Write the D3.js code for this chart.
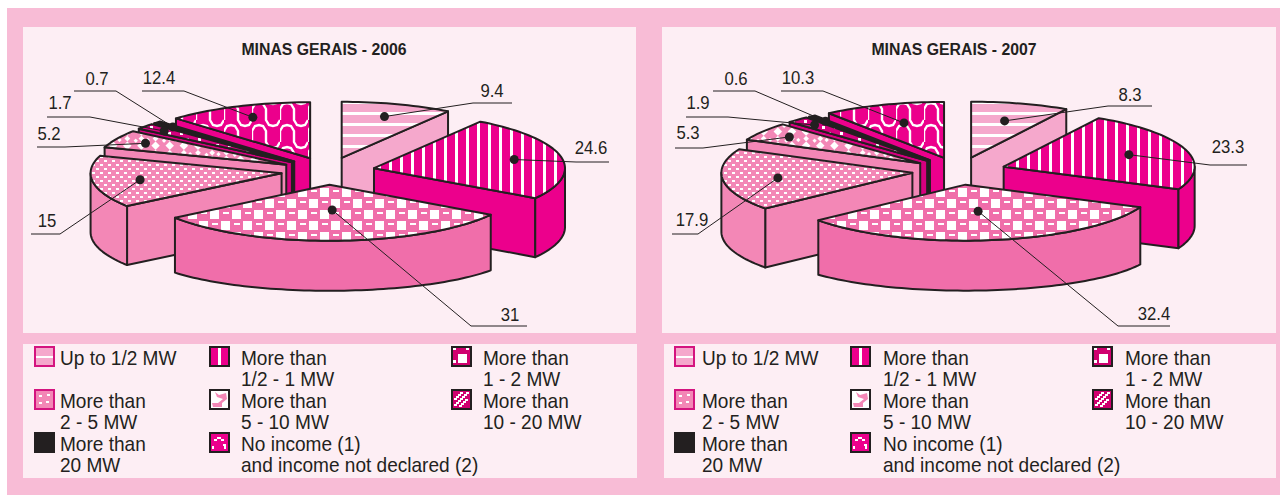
<!DOCTYPE html>
<html><head><meta charset="utf-8">
<script src="https://cdnjs.cloudflare.com/ajax/libs/d3/7.8.5/d3.min.js"></script>
<style>html,body{margin:0;padding:0;background:#fff}svg{display:block}text{font-family:'Liberation Sans',sans-serif;fill:#231f20}</style>
</head><body><svg id="c" width="1280" height="495"></svg>
<script>
const categories=["Up to 1/2 MW","More than 1/2 - 1 MW","More than 1 - 2 MW","More than 2 - 5 MW","More than 5 - 10 MW","More than 10 - 20 MW","More than 20 MW","No income (1) and income not declared (2)"];
const values2006=[9.4,24.6,31,15,5.2,1.7,0.7,12.4];
const values2007=[8.3,23.3,32.4,17.9,5.3,1.9,0.6,10.3];
const ink="#231f20";
const wallColors=["#f5a8cc","#ec008c","#f06eaa","#f387b6","#f387b6","#d6007f",ink,"#ec008c"];
const RX=191,RY=56,DEPTH=59,EXPLODE=47,TILT=RY/RX;
const FRONT=2,FRONT_DEPTH=62,FRONT_RY=44;
const paint=[7,6,5,4,3,0,1,2];
const charts=[
 {title:"MINAS GERAIS - 2006",values:values2006,cx:328,cy:171,titleX:324,
  frac:[.77,.75,.45,.75,.83,.87,.885,.79],
  elbow:[[473,103],[576,162],[471,326],[60,234],[65,147],[90,117],[116,91],[184,91]],
  end:[[512,103],[609,162],[527,326],[31,234],[37,147],[47,117],[74,91],[142,91]],
  lab:[[492,97],[591,154],[510,321],[47,227],[49,140],[60,109],[97,85],[159,84]],
  panel:[23,27,613,306],legend:[23,344,614,134],cols:[[34,60],[209,241],[451,483]]},
 {title:"MINAS GERAIS - 2007",values:values2007,cx:959,cy:171,titleX:954,
  frac:[.68,.69,.48,.71,.83,.87,.885,.66],
  elbow:[[1108,106],[1210,165],[1118,326],[698,234],[703,148],[728,117],[755,91],[823,91]],
  end:[[1152,106],[1247,165],[1170,326],[672,234],[675,148],[686,117],[713,91],[781,91]],
  lab:[[1130,101],[1228,153],[1154,320],[692,226],[688,139],[698,109],[736,85],[798,84]],
  panel:[662,27,614,306],legend:[664,344,612,134],cols:[[674,702],[850,883],[1092,1125]]}
];
const legendLines=[["Up to 1/2 MW"],["More than","1/2 - 1 MW"],["More than","1 - 2 MW"],["More than","2 - 5 MW"],["More than","5 - 10 MW"],["More than","10 - 20 MW"],["More than","20 MW"],["No income (1)","and income not declared (2)"]];
const legendCell=[[0,0],[1,0],[2,0],[0,1],[1,1],[2,1],[0,2],[1,2]];
const svg=d3.select("#c");
const defs=svg.append("defs");
function pat(id,w,h,base,build){const p=defs.append("pattern").attr("id",id).attr("patternUnits","userSpaceOnUse").attr("width",w).attr("height",h);
 p.append("rect").attr("width",w).attr("height",h).attr("fill",base);build(p);return p;}
const wr=(p,x,y,w,h,f="#fff")=>p.append("rect").attr("x",x).attr("y",y).attr("width",w).attr("height",h).attr("fill",f).attr("shape-rendering","crispEdges");
pat("p0",11,11,wallColors[0],p=>wr(p,0,2,11,3));
pat("p1",11,11,wallColors[1],p=>wr(p,4,0,3,11));
pat("p2",22,22,wallColors[2],p=>{wr(p,1,1,9,9);wr(p,12,12,9,9);wr(p,14,3,6,2);wr(p,3,14,6,2);});
pat("p3",8,8,wallColors[3],p=>{wr(p,0,0,3,2);wr(p,4,4,3,2);});
pat("p4",20,20,wallColors[3],p=>{wr(p,0,0,6,6);wr(p,10,10,6,6);wr(p,6,6,4,4);wr(p,16,16,4,4);wr(p,14,2,3,3);wr(p,2,13,3,3);}).attr("patternTransform","rotate(45)");
pat("p5",12,12,"#d6007f",p=>{wr(p,0,0,3,3);wr(p,6,6,3,3);});
pat("p6",4,4,ink,p=>{});
pat("p7",28,44,wallColors[7],p=>{
 [-3,19,41].forEach(y=>p.append("path").attr("d",`M0,${y+13}V${y+2}L3,${y-3}L7,${y-4}L11,${y-3}L14,${y+2}V${y+13}L17,${y+18}L21,${y+19}L25,${y+18}L28,${y+13}`).attr("fill","none").attr("stroke","#fff").attr("stroke-width",2.4));
});
const line=d3.line();
function arcPts(a0,a1,ox,oy,ry=RY){const n=Math.max(2,Math.ceil((a1-a0)/0.03));
 return d3.range(n+1).map(i=>{const a=a0+(a1-a0)*i/n;return [ox+RX*Math.sin(a),oy-ry*Math.cos(a)];});}
function txt(x,y,s,sx,anchor,t,bold){
 const e=svg.append("text").attr("transform",`translate(${x},${y}) scale(${sx},1)`).attr("font-size",s).attr("text-anchor",anchor).text(t);
 if(bold)e.attr("font-weight","bold");
 return e;}
function drawChart(ch){
 const [px,py,pw,ph]=ch.panel,[lx,ly,lw,lh]=ch.legend;
 svg.append("rect").attr("x",px).attr("y",py).attr("width",pw).attr("height",ph).attr("fill","#fdeef4");
 svg.append("rect").attr("x",lx).attr("y",ly).attr("width",lw).attr("height",lh).attr("fill","#fdeef4");
 txt(ch.titleX,55,17,.93,"middle",ch.title,true);
 const arcs=d3.pie().sort(null).value(d=>d)(ch.values);
 const origin=d=>{const m=(d.startAngle+d.endAngle)/2;return [ch.cx+EXPLODE*Math.sin(m),ch.cy-EXPLODE*TILT*Math.cos(m)];};
 const g=svg.append("g").attr("stroke",ink).attr("stroke-width",2).attr("stroke-linejoin","round");
 paint.forEach(i=>{
  const d=arcs[i],[ox,oy]=origin(d),a0=d.startAngle,a1=d.endAngle,col=wallColors[i];
  const wall=a=>{const x=ox+RX*Math.sin(a),y=oy-RY*Math.cos(a);
   g.append("path").attr("fill",col).attr("d",line([[ox,oy],[x,y],[x,y+DEPTH],[ox,oy+DEPTH]])+"Z");};
  if(Math.sin(a0)<0) wall(a0);
  if(Math.sin(a1)>0) wall(a1);
  const s=Math.max(a0,Math.PI/2),e=Math.min(a1,3*Math.PI/2);
  if(e>s){const top=arcPts(s,e,ox,oy);
   const bot=(i===FRONT?arcPts(s,e,ox,oy+FRONT_DEPTH,FRONT_RY):arcPts(s,e,ox,oy+DEPTH)).reverse();
   g.append("path").attr("fill",col).attr("d",line(top.concat(bot))+"Z");}
  g.append("path").attr("fill",`url(#p${i})`).attr("d",line([[ox,oy]].concat(arcPts(a0,a1,ox,oy)))+"Z");
 });
 arcs.forEach((d,i)=>{
  const [ox,oy]=origin(d),m=(d.startAngle+d.endAngle)/2,f=ch.frac[i];
  const dot=[ox+f*RX*Math.sin(m),oy-f*RY*Math.cos(m)];
  svg.append("path").attr("fill","none").attr("stroke",ink).attr("stroke-width",1).attr("d",line([dot,ch.elbow[i],ch.end[i]]));
  svg.append("circle").attr("cx",dot[0]).attr("cy",dot[1]).attr("r",4.5).attr("fill",ink);
  txt(ch.lab[i][0],ch.lab[i][1],19,.88,"middle",ch.values[i]);
 });
 legendLines.forEach((ls,i)=>{
  const [c,r]=legendCell[i],[sx,tx]=ch.cols[c],y=346+r*43;
  const sw=svg.append("g").attr("transform",`translate(${sx},${y})`);
  drawSwatch(sw,i);
  ls.forEach((t,k)=>txt(tx,y+19+k*21,20.5,.93,"start",t));
 });
}
const swatchBase=["#f5a8cc","#ec008c","#d0006f","#f387b6","#ffffff","#d0006f",ink,"#ec008c"];
const swatchEdge=["#d4147f",ink,ink,"#d4147f",ink,ink,ink,ink];
const swatchMarks=[
 [[2,9.5,17,2]],[[9,2,2.5,17]],[[7,8,9,9],[2,2,3,2],[15,2,3,2],[2,14,3,3]],[[5,6,3,2],[12,12,3,2],[13,5,3,2],[5,13,3,2]],[],[[3,15,3,2],[5,13,3,2],[7,11,3,2],[9,9,3,2],[11,7,3,2],[13,5,3,2],[15,3,3,2],[8,16,3,2],[10,14,3,2],[12,12,3,2],[14,10,3,2],[3,9,3,2],[5,7,3,2],[7,5,3,2],[9,3,3,2]],[],[[8,5,4,2],[5,7,3,2],[12,7,3,2],[3,14,2,3],[14,12,3,2],[15,14,2,3]]
];
function drawSwatch(sw,i){
 sw.append("rect").attr("x",1).attr("y",1).attr("width",19).attr("height",19).attr("fill",swatchBase[i]).attr("stroke",swatchEdge[i]).attr("stroke-width",2);
 if(i===4){sw.append("path").attr("fill","#f387b6").attr("d","M6,3L10,6L17,4L18,10L13,14L13,18L4,18L3,14L9,14L14,10L8,8Z");}
 swatchMarks[i].forEach(m=>wr(sw,m[0],m[1],m[2],m[3]));
}
svg.append("rect").attr("x",7).attr("y",8).attr("width",1273).attr("height",487).attr("fill","#f8bcd6");
charts.forEach(drawChart);
</script></body></html>
